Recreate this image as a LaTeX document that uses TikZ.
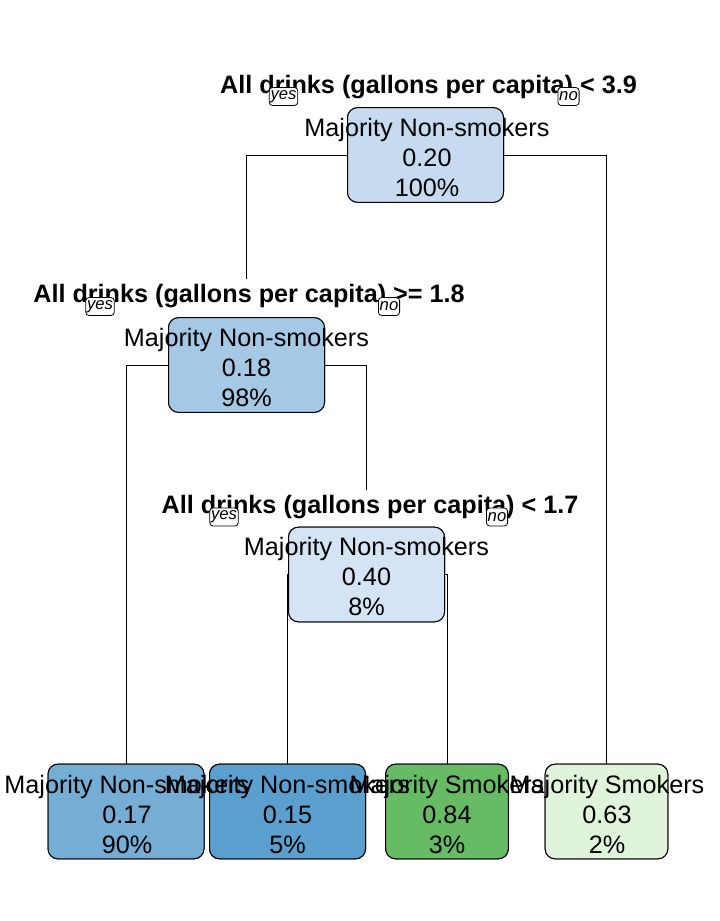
\documentclass[tikz,border=0pt]{standalone}
\usepackage{fontspec}
\setmainfont{Liberation Sans}
\definecolor{cRoot}{HTML}{C6DBEF}
\definecolor{cNtwo}{HTML}{A5C8E4}
\definecolor{cNthree}{HTML}{D4E4F4}
\definecolor{cLone}{HTML}{75ADD4}
\definecolor{cLtwo}{HTML}{5A9FCD}
\definecolor{cLthree}{HTML}{66BB64}
\definecolor{cLfour}{HTML}{E0F3DB}
\tikzset{
  box/.style={draw=black, line width=0.75pt, rounded corners=7.5pt, inner sep=0pt, minimum height=71pt},
  wide/.style={minimum width=117pt},
  narrow/.style={minimum width=92pt},
  txt/.style={align=center, inner sep=0pt, font=\fontsize{18.9}{22.5}\selectfont},
  splitlab/.style={anchor=base, inner sep=3.5pt, font=\fontsize{18.9}{22.5}\selectfont\bfseries},
  yn/.style={draw=black, fill=white, line width=0.6pt, rounded corners=2.5pt, inner xsep=1pt, inner ysep=0pt, minimum height=13.5pt, font=\fontsize{12.5}{13}\selectfont\itshape},
  edge/.style={draw=black, line width=0.75pt}
}
\begin{document}
\begin{tikzpicture}[x=0.75pt,y=-0.75pt]
\useasboundingbox (0,0) rectangle (720,921);
% boxes (positions)
\path
  node[box,wide] (root) at (425.5,155) {}
  node[box,wide] (n2) at (246.5,365) {}
  node[box,wide] (n3) at (366.5,574.5) {}
  node[box,wide] (l1) at (126,811.5) {}
  node[box,wide] (l2) at (287.5,811.5) {}
  node[box,narrow] (l3) at (447,811.5) {}
  node[box,narrow] (l4) at (606.5,811.5) {};
% split labels
\node[splitlab] (s1) at (428.5,93) {All drinks (gallons per capita) < 3.9};
\node[splitlab] (s2) at (249,302) {All drinks (gallons per capita) >= 1.8};
\node[splitlab] (s3) at (370,513) {All drinks (gallons per capita) < 1.7};
% connectors
\draw[edge] (root.west) -| (n2.north |- s2.north);
\draw[edge] (root.east) -| (l4.north);
\draw[edge] (n2.west) -| (l1.north);
\draw[edge] (n2.east) -| (n3.north |- s3.north);
\draw[edge] (n3.west) -| (l2.north);
\draw[edge] (n3.east) -| (l3.north);
% boxes drawn over connectors
\node[box,wide,fill=cRoot] at (root) {};
\node[box,wide,fill=cNtwo] at (n2) {};
\node[box,wide,fill=cNthree] at (n3) {};
\node[box,wide,fill=cLone] at (l1) {};
\node[box,wide,fill=cLtwo] at (l2) {};
\node[box,narrow,fill=cLthree] at (l3) {};
\node[box,narrow,fill=cLfour] at (l4) {};
% texts
\node[txt] (t1) at (427,157) {Majority Non-smokers\\0.20\\100\%};
\node[txt] (t2) at (246.5,367) {Majority Non-smokers\\0.18\\98\%};
\node[txt] (t3) at (366.5,576.5) {Majority Non-smokers\\0.40\\8\%};
\node[txt] (t4) at (127,814) {Majority Non-smokers\\0.17\\90\%};
\node[txt] (t5) at (287.5,814) {Majority Non-smokers\\0.15\\5\%};
\node[txt] (t6) at (447,814) {Majority Smokers\\0.84\\3\%};
\node[txt] (t7) at (607,814) {Majority Smokers\\0.63\\2\%};
% yes / no
\node[yn] (y1) at (283.5,96.5) {yes};
\node[yn] (o1) at (568.5,96.5) {no};
\node[yn] (y2) at (100,306.5) {yes};
\node[yn] (o2) at (389,306.5) {no};
\node[yn] (y3) at (224,517) {yes};
\node[yn] (o3) at (497,517) {no};
\end{tikzpicture}
\end{document}
